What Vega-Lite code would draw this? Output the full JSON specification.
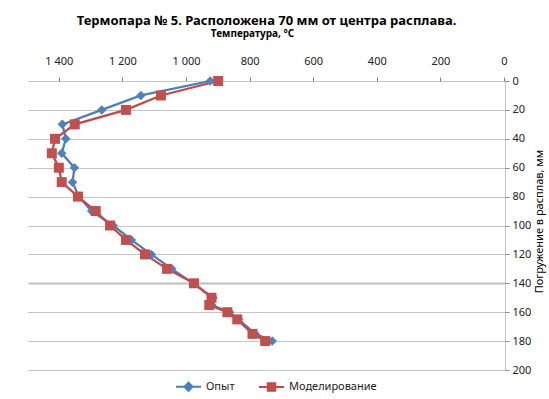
{
  "$schema": "https://vega.github.io/schema/vega-lite/v6.json",
  "width": 477,
  "height": 289,
  "autosize": {"type": "none"},
  "padding": {"left": 28, "top": 81, "right": 44, "bottom": 29},
  "background": "white",
  "config": {
    "font": "Noto Sans",
    "view": {"stroke": null}
  },
  "title": {
    "text": "Термопара № 5. Расположена 70 мм от центра расплава.",
    "fontSize": 13,
    "fontWeight": "bold",
    "color": "#000000",
    "anchor": "middle",
    "offset": 0,
    "dy": 0
  },
  "data": {
    "values": [
      {"s": "Опыт", "d": 0, "t": 927},
      {"s": "Опыт", "d": 10, "t": 1145},
      {"s": "Опыт", "d": 20, "t": 1268},
      {"s": "Опыт", "d": 30, "t": 1392},
      {"s": "Опыт", "d": 40, "t": 1381},
      {"s": "Опыт", "d": 50, "t": 1394},
      {"s": "Опыт", "d": 60, "t": 1354},
      {"s": "Опыт", "d": 70, "t": 1360},
      {"s": "Опыт", "d": 80, "t": 1340},
      {"s": "Опыт", "d": 90, "t": 1300},
      {"s": "Опыт", "d": 100, "t": 1232},
      {"s": "Опыт", "d": 110, "t": 1175},
      {"s": "Опыт", "d": 120, "t": 1112},
      {"s": "Опыт", "d": 130, "t": 1048},
      {"s": "Опыт", "d": 140, "t": 980},
      {"s": "Опыт", "d": 150, "t": 918},
      {"s": "Опыт", "d": 155, "t": 922},
      {"s": "Опыт", "d": 160, "t": 866},
      {"s": "Опыт", "d": 165, "t": 838},
      {"s": "Опыт", "d": 175, "t": 785},
      {"s": "Опыт", "d": 180, "t": 732},
      {"s": "Моделирование", "d": 0, "t": 902},
      {"s": "Моделирование", "d": 10, "t": 1082},
      {"s": "Моделирование", "d": 20, "t": 1192},
      {"s": "Моделирование", "d": 30, "t": 1353},
      {"s": "Моделирование", "d": 40, "t": 1415},
      {"s": "Моделирование", "d": 50, "t": 1425},
      {"s": "Моделирование", "d": 60, "t": 1403},
      {"s": "Моделирование", "d": 70, "t": 1394},
      {"s": "Моделирование", "d": 80, "t": 1343},
      {"s": "Моделирование", "d": 90, "t": 1287},
      {"s": "Моделирование", "d": 100, "t": 1242},
      {"s": "Моделирование", "d": 110, "t": 1192},
      {"s": "Моделирование", "d": 120, "t": 1132},
      {"s": "Моделирование", "d": 130, "t": 1063},
      {"s": "Моделирование", "d": 140, "t": 978},
      {"s": "Моделирование", "d": 150, "t": 923},
      {"s": "Моделирование", "d": 155, "t": 930},
      {"s": "Моделирование", "d": 160, "t": 873},
      {"s": "Моделирование", "d": 165, "t": 842},
      {"s": "Моделирование", "d": 175, "t": 794},
      {"s": "Моделирование", "d": 180, "t": 754}
    ]
  },
  "encoding": {
    "x": {
      "field": "t",
      "type": "quantitative",
      "scale": {"domain": [0, 1500], "reverse": true, "nice": false, "zero": false},
      "axis": {
        "orient": "top",
        "values": [0, 200, 400, 600, 800, 1000, 1200, 1400],
        "labelExpr": "replace(format(datum.value, ','), ',', ' ')",
        "grid": false,
        "domain": false,
        "ticks": true,
        "tickSize": 4,
        "tickColor": "#808080",
        "tickOffset": -1,
        "labelFontSize": 11,
        "labelColor": "#222222",
        "labelPadding": 11,
        "labelFlush": false,
        "title": "Температура, °C",
        "titleFontSize": 10,
        "titleFontWeight": "bold",
        "titleColor": "#000000",
        "titleX": 224,
        "titleY": -45,
        "titleBaseline": "alphabetic",
        "titleAnchor": "middle",
        "titleAlign": "center"
      }
    },
    "y": {
      "field": "d",
      "type": "quantitative",
      "scale": {"domain": [0, 200], "reverse": true, "nice": false, "zero": false},
      "axis": {
        "orient": "right",
        "values": [0, 20, 40, 60, 80, 100, 120, 140, 160, 180, 200],
        "grid": true,
        "gridColor": {"condition": {"test": "datum.value === 140", "value": "#c0c0c0"}, "value": "#8c8c8c"},
        "gridDash": {"condition": {"test": "datum.value === 140", "value": []}, "value": [1, 1]},
        "gridWidth": {"condition": {"test": "datum.value === 140", "value": 2}, "value": 1},
        "domain": true,
        "domainColor": "#8c8c8c",
        "domainDash": [1, 1],
        "ticks": true,
        "tickSize": 4,
        "tickColor": "#8c8c8c",
        "labelFontSize": 11,
        "labelColor": "#222222",
        "labelPadding": 3,
        "labelAlign": "left",
        "title": "Погружение в расплав, мм",
        "titleFontSize": 11,
        "titleFontWeight": "normal",
        "titleColor": "#000000",
        "titleAngle": 270,
        "titleX": 34,
        "titleY": 140,
        "titleBaseline": "middle",
        "titleAlign": "center"
      }
    }
  },
  "layer": [
    {
      "mark": {"type": "line", "strokeWidth": 2.25},
      "encoding": {
        "order": {"field": "d", "type": "quantitative"},
        "color": {
          "field": "s",
          "type": "nominal",
          "sort": ["Опыт", "Моделирование"],
          "scale": {"domain": ["Опыт", "Моделирование"], "range": ["#4A7EBB", "#BE4B48"]},
          "legend": null
        }
      }
    },
    {
      "mark": {"type": "point", "filled": true, "opacity": 1},
      "encoding": {
        "color": {
          "field": "s",
          "type": "nominal",
          "sort": ["Опыт", "Моделирование"],
          "scale": {"domain": ["Опыт", "Моделирование"], "range": ["#4F81BD", "#C0504D"]},
          "legend": {
            "title": null,
            "orient": "none",
            "direction": "horizontal",
            "legendX": 147,
            "legendY": 292,
            "symbolSize": 625,
            "symbolStrokeWidth": 2,
            "labelFontSize": 11,
            "labelColor": "#222222",
            "labelOffset": 4,
            "columnPadding": 20,
            "encoding": {
              "symbols": {
                "shape": {"condition": {"test": "datum.value === 'Опыт'", "value": "M-1,0L1,0M0,-0.32L0.32,0L0,0.32L-0.32,0Z"}, "value": "M-1,0L1,0M-0.3,-0.3L0.3,-0.3L0.3,0.3L-0.3,0.3Z"},
                "size": {"value": 625},
                "strokeWidth": {"value": 2},
                "stroke": {"condition": {"test": "datum.value === 'Опыт'", "value": "#4A7EBB"}, "value": "#BE4B48"},
                "opacity": {"value": 1}
              }
            }
          }
        },
        "shape": {
          "field": "s",
          "type": "nominal",
          "sort": ["Опыт", "Моделирование"],
          "scale": {"domain": ["Опыт", "Моделирование"], "range": ["diamond", "square"]},
          "legend": null
        },
        "size": {
          "field": "s",
          "type": "nominal",
          "scale": {"domain": ["Опыт", "Моделирование"], "range": [90, 100]},
          "legend": null
        }
      }
    }
  ],
  "resolve": {"scale": {"color": "independent"}}
}
